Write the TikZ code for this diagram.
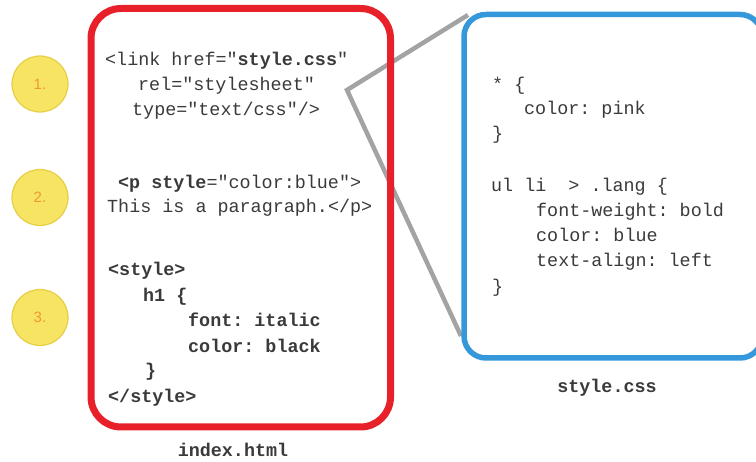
\documentclass[tikz,border=0pt]{standalone}
\usepackage{fontspec}
\newfontfamily\codefont{Liberation Mono}
\newfontfamily\numfont{Liberation Sans}
\definecolor{redbox}{HTML}{E8202A}
\definecolor{bluebox}{HTML}{3498DB}
\definecolor{calloutgray}{HTML}{A3A3A3}
\definecolor{codegray}{HTML}{3A3A3A}
\definecolor{numfill}{HTML}{F7E463}
\definecolor{numline}{HTML}{E6CF48}
\definecolor{numtext}{HTML}{EE9A2E}
\frenchspacing
\tikzset{
  code/.style={anchor=base west, inner sep=0pt, text=codegray,
    font=\codefont\fontsize{18.4}{22}\selectfont},
  filelabel/.style={anchor=base, inner sep=0pt, text=codegray,
    font=\codefont\bfseries\fontsize{18.4}{22}\selectfont},
  numcircle/.style={circle, fill=numfill, draw=numline, line width=1.2pt,
    minimum size=56pt, inner sep=0pt, text=numtext,
    font=\numfont\fontsize{15}{18}\selectfont},
  callout/.style={draw=calloutgray, line width=4.5pt, line join=miter},
  htmlbox/.style={draw=redbox, line width=7pt, rounded corners=30pt,
    minimum width=299.5pt, minimum height=418.5pt, inner sep=0pt},
  cssbox/.style={draw=bluebox, line width=5.5pt, rounded corners=22pt,
    minimum width=298pt, minimum height=343.5pt, inner sep=0pt}
}
\begin{document}
\begin{tikzpicture}[x=1pt,y=-1pt]
\useasboundingbox (0,0) rectangle (756,462);
\clip (0,0) rectangle (756,462);
% callout
\coordinate (apex) at (347,90);
\coordinate (gtop) at (468,15);
\coordinate (gbot) at (461,336);
\draw[callout] (gtop) -- (apex) -- (gbot);
% boxes
\node[htmlbox] (html) at (240.75,217.75) {};
\node[cssbox] (css) at (613,186.25) {};
% numbers
\node[numcircle] (n1) at (40,84) {1.};
\node[numcircle] (n2) at (40,197.5) {2.};
\node[numcircle] (n3) at (40,317.5) {3.};
% html code
\node[code] (h1) at (105,66) {<link href="\textbf{style.css}"};
\node[code] (h2) at (138,91) {rel="stylesheet"};
\node[code] (h3) at (132,116) {type="text/css"/>};
\node[code] (h4) at (118,189) {\textbf{<p style}="color:blue">};
\node[code] (h5) at (107,213) {This is a paragraph.</p>};
\node[code] (h6) at (108,276) {\textbf{<style>}};
\node[code] (h7) at (143,302) {\textbf{h1 \{}};
\node[code] (h8) at (188,327) {\textbf{font: italic}};
\node[code] (h9) at (188,353) {\textbf{color: black}};
\node[code] (h10) at (145,377) {\textbf{\}}};
\node[code] (h11) at (108,403) {\textbf{</style>}};
\node[filelabel] (htmllabel) at (233,457) {index.html};
% css code
\node[code] (c1) at (492,91) {* \{};
\node[code] (c2) at (524,115) {color: pink};
\node[code] (c3) at (492,140) {\}};
\node[code] (c4) at (491,192) {ul li\ \ > .lang \{};
\node[code] (c5) at (536,217) {font-weight: bold};
\node[code] (c6) at (536,242) {color: blue};
\node[code] (c7) at (536,267) {text-align: left};
\node[code] (c8) at (492,293) {\}};
\node[filelabel] (csslabel) at (607,393) {style.css};
\end{tikzpicture}
\end{document}
